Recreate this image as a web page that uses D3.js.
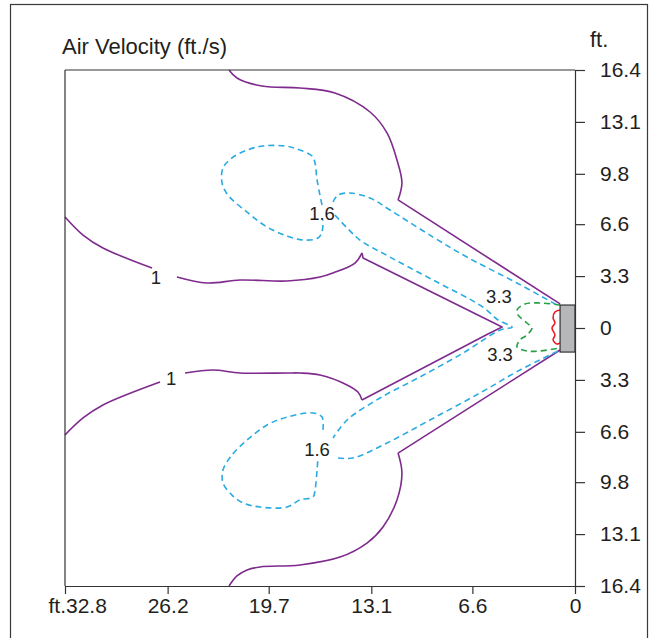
<!DOCTYPE html>
<html><head><meta charset="utf-8">
<script src="https://cdn.jsdelivr.net/npm/d3@7"></script>
<style>
body{margin:0;background:#fff;}
text{font-family:"Liberation Sans Narrow","Arial Narrow","Liberation Sans",Arial,sans-serif;fill:#231f20;}
</style>
</head><body>
<svg id="chart" width="656" height="638"></svg>
<script>
// ---------- data (distance from nozzle in ft, lateral offset in ft; + = upper half) ----------
const xTicks = [32.8, 26.2, 19.7, 13.1, 6.6, 0];
const xTickLabels = ["ft.32.8", "26.2", "19.7", "13.1", "6.6", "0"];
const yTicks = [16.4, 13.1, 9.8, 6.6, 3.3, 0, -3.3, -6.6, -9.8, -13.1, -16.4];
const yTickLabels = ["16.4", "13.1", "9.8", "6.6", "3.3", "0", "3.3", "6.6", "9.8", "13.1", "16.4"];

// 1 ft/s contour (purple)
const purpleOuterTop = [[22.25,16.40],[21.74,15.89],[20.13,15.38],[17.69,15.26],[15.44,14.94],[13.18,13.73],[12.09,12.40],[11.45,10.68],[11.13,9.22],[11.38,8.14]];
const purpleOuterTopArm = [[11.38,8.14],[0.96,1.53]];
const purpleOuterBottomArm = [[0.96,-1.40],[11.38,-7.95]];
const purpleOuterBottom = [[11.38,-7.95],[11.13,-9.22],[11.45,-10.93],[12.35,-12.65],[13.38,-13.67],[15.11,-14.56],[17.69,-15.06],[20.26,-15.19],[21.09,-15.38],[21.74,-15.76],[22.25,-16.40]];
const purpleUpperLeft = [[32.80,7.06],[31.64,5.91],[30.36,5.09],[27.20,3.81]];
const purpleInnerTop = [[25.60,3.24],[23.67,2.86],[21.54,3.05],[18.52,2.99],[16.40,3.24],[15.56,3.50],[14.15,4.13],[13.70,4.77]];
const purpleInnerArms = [[13.70,4.77],[13.63,4.45],[5.47,0.44],[4.69,0.06],[5.60,-0.38],[13.70,-4.58]];
const purpleInnerBottom = [[13.70,-4.58],[13.96,-4.07],[14.66,-3.62],[16.40,-2.99],[17.69,-2.86],[18.52,-2.86],[21.54,-2.86],[23.28,-2.67],[25.08,-2.86]];
const purpleLowerLeft = [[26.69,-3.43],[30.36,-4.89],[31.64,-5.72],[32.80,-6.80]];

// 1.6 ft/s contour (blue dashed)
const blueTopBlob = [[16.27,7.82],[16.59,9.41],[16.72,10.49],[16.91,10.93],[17.88,11.38],[18.65,11.57],[20.07,11.57],[21.09,11.31],[22.06,10.81],[22.64,10.17],[22.70,9.22],[22.32,8.45],[21.09,7.37],[19.81,6.42],[18.52,5.85],[17.49,5.59],[16.53,5.72],[16.27,6.10],[16.21,6.87]];
const blueTopUpper = [[15.56,8.01],[15.24,8.45],[14.47,8.58],[13.18,8.26],[11.90,7.50],[9.13,5.78],[6.95,4.51],[3.73,2.86],[1.16,1.46]];
const blueMiddle = [[15.44,7.18],[14.66,6.36],[13.83,5.59],[11.90,4.51],[9.13,3.05],[5.92,1.33],[4.95,0.51],[4.05,0.06],[4.82,-0.13],[7.20,-1.59],[9.97,-3.11],[12.54,-4.45],[14.66,-5.85],[15.56,-6.99]];
const blueBottomLower = [[15.24,-8.26],[14.28,-8.26],[12.09,-7.31],[9.33,-5.85],[6.11,-4.13],[3.54,-2.67],[0.96,-1.40]];
const blueBottomBlob = [[16.21,-6.48],[16.27,-5.66],[16.85,-5.40],[18.52,-5.66],[19.81,-6.17],[21.09,-7.12],[22.06,-8.07],[22.64,-9.03],[22.64,-9.85],[22.06,-10.62],[21.35,-11.12],[20.26,-11.38],[18.52,-11.38],[17.69,-10.93],[16.85,-10.74],[16.72,-10.30],[16.59,-9.03],[16.53,-8.20]];

// 3.3 ft/s contour (green dashed)
const greenLine = [[0.96,1.46],[2.25,1.59],[3.22,1.53],[3.73,1.14],[3.67,0.83],[3.09,0.32],[2.77,0.00],[3.09,-0.44],[3.54,-0.76],[3.73,-1.21],[3.09,-1.46],[2.25,-1.46],[0.96,-1.27]];

// highest contour (red)
const redLine = [[0.96,1.14],[1.29,1.02],[1.41,0.64],[1.29,0.32],[1.48,0.00],[1.29,-0.44],[1.41,-0.76],[1.16,-1.02],[0.96,-0.95]];

// nozzle extent
const nozzleX = [0.96, 0];
const nozzleY = [1.46, -1.53];

// contour labels: value, distance, lateral
const labelText = ["1", "1", "1.6", "1.6", "3.3", "3.3"];
const labelD = [26.95, 25.98, 16.27, 16.59, 4.89, 4.82];
const labelY = [3.24, -3.18, 7.31, -7.69, 2.03, -1.65];

// ---------- drawing ----------
const svg = d3.select("#chart");
const L = 65, R = 575, T = 70, B = 586;
const x = d3.scaleLinear().domain([32.8, 0]).range([L, R]);
const y = d3.scaleLinear().domain([16.4, -16.4]).range([T, B]);

// outer frame
svg.append("rect").attr("x", 10.5).attr("y", 4.5).attr("width", 637).attr("height", 660)
  .attr("fill", "none").attr("stroke", "#3a3a3a").attr("stroke-width", 1.2);

const smooth = d3.line().x(d => x(d[0])).y(d => y(d[1])).curve(d3.curveCatmullRom.alpha(0.5));
const straight = d3.line().x(d => x(d[0])).y(d => y(d[1]));

const purple = "#7f2a8d", blue = "#29abe2", green = "#27a046", red = "#ed1c24";
const g = svg.append("g");

function draw(data, gen, color, dash) {
  g.append("path").attr("d", gen(data)).attr("fill", "none").attr("stroke", color)
    .attr("stroke-width", 1.6).attr("stroke-linejoin", "round")
    .attr("stroke-dasharray", dash || null);
}
[purpleOuterTop, purpleOuterBottom, purpleUpperLeft, purpleInnerTop, purpleInnerBottom, purpleLowerLeft]
  .forEach(d => draw(d, smooth, purple));
[purpleOuterTopArm, purpleOuterBottomArm, purpleInnerArms].forEach(d => draw(d, straight, purple));
[blueTopBlob, blueTopUpper, blueMiddle, blueBottomLower, blueBottomBlob].forEach(d => draw(d, smooth, blue, "6,4"));
draw(greenLine, smooth, green, "6,4");
draw(redLine, smooth, red);

// nozzle
svg.append("rect").attr("x", x(nozzleX[0])).attr("y", y(nozzleY[0]))
  .attr("width", x(nozzleX[1]) - x(nozzleX[0])).attr("height", y(nozzleY[1]) - y(nozzleY[0]))
  .attr("fill", "#b6b7b9").attr("stroke", "#333").attr("stroke-width", 1.2);

// contour labels
labelText.forEach((t, i) => {
  svg.append("text").attr("x", x(labelD[i])).attr("y", y(labelY[i])).attr("dy", "0.36em")
    .attr("text-anchor", "middle").attr("font-size", 18.5).text(t);
});

// plot box lines (top and left)
svg.append("line").attr("x1", L).attr("x2", R).attr("y1", T).attr("y2", T).attr("stroke", "#333").attr("stroke-width", 1.2);
svg.append("line").attr("x1", L).attr("x2", L).attr("y1", T).attr("y2", B).attr("stroke", "#333").attr("stroke-width", 1.2);

// right axis
const ay = svg.append("g").attr("transform", `translate(${R},0)`)
  .call(d3.axisRight(y).tickValues(yTicks).tickSize(10).tickSizeOuter(0).tickPadding(15)
    .tickFormat((d, i) => yTickLabels[i]));
// bottom axis
const ax = svg.append("g").attr("transform", `translate(0,${B})`)
  .call(d3.axisBottom(x).tickValues(xTicks).tickSize(8).tickSizeOuter(0).tickPadding(4)
    .tickFormat((d, i) => xTickLabels[i]));
[ax, ay].forEach(a => {
  a.selectAll("path, line").attr("stroke", "#333").attr("stroke-width", 1.2);
  a.selectAll("text").attr("font-size", 21).attr("fill", "#231f20")
    .style("font-family", "'Liberation Sans Narrow','Arial Narrow','Liberation Sans',Arial,sans-serif");
});
ax.selectAll("text").filter((d, i) => i === 0).attr("text-anchor", "start").attr("x", -17);

// titles
svg.append("text").attr("x", 62).attr("y", 54).attr("font-size", 22).text("Air Velocity (ft./s)");
svg.append("text").attr("x", 590).attr("y", 47).attr("font-size", 22).text("ft.");
</script>
</body></html>
